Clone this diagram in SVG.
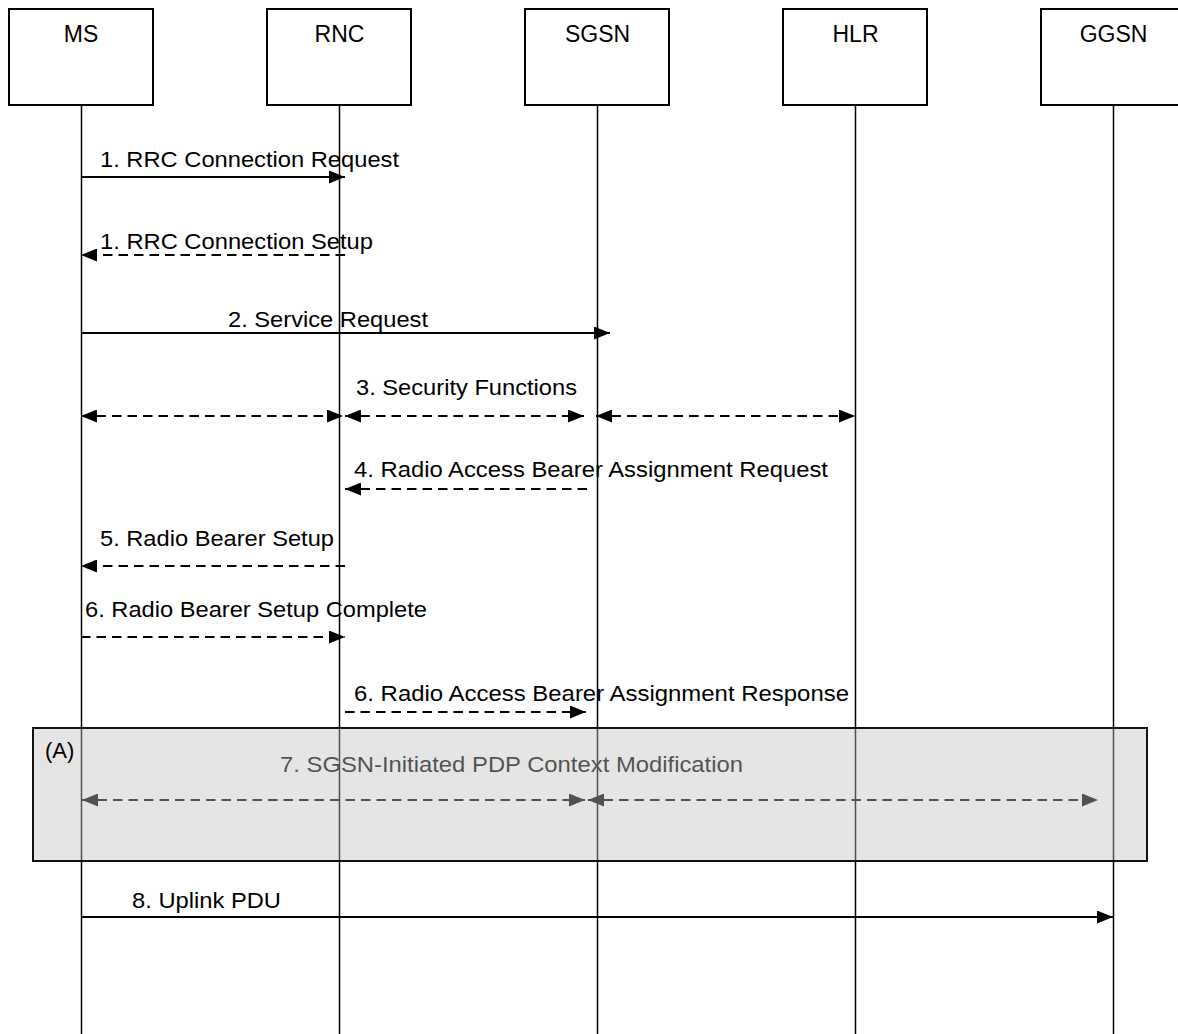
<svg xmlns="http://www.w3.org/2000/svg" width="1178" height="1034" viewBox="0 0 1178 1034">
<defs>
<marker id="ah" markerUnits="userSpaceOnUse" markerWidth="16" markerHeight="13" refX="16" refY="6.5" orient="auto-start-reverse"><path d="M0,0 L16,6.5 L0,13 z" fill="#000"/></marker>
<pattern id="stipple" patternUnits="userSpaceOnUse" width="2" height="2"><rect width="2" height="2" fill="#cdcdcd"/><rect width="1" height="1" fill="#b4b4b4"/><rect x="1" y="1" width="1" height="1" fill="#b4b4b4"/></pattern>
</defs>
<style>
.box{fill:#fff;stroke:#000;stroke-width:2}
.life{stroke:#000;stroke-width:1.5}
.lbl{font-family:"Liberation Sans",Arial,sans-serif;font-size:23px;text-anchor:middle;fill:#000}
.msg{font-family:"Liberation Sans",Arial,sans-serif;font-size:22px;fill:#000}
.s{stroke:#000;stroke-width:2;fill:none;marker-end:url(#ah)}
.d{stroke:#000;stroke-width:2;fill:none;stroke-dasharray:9.5 6;marker-end:url(#ah)}
.dd{stroke:#000;stroke-width:2;fill:none;stroke-dasharray:9.5 6;marker-start:url(#ah);marker-end:url(#ah)}
.frame{fill:url(#stipple);fill-opacity:0.42;stroke:#111;stroke-width:2}
</style>
<rect x="0" y="0" width="1178" height="1034" fill="#fff"/>
<g id="node-ms"><rect class="box" x="9" y="9" width="144" height="96"/><text class="lbl" x="81" y="42">MS</text><line class="life" x1="81.5" y1="105" x2="81.5" y2="1034"/></g>
<g id="node-rnc"><rect class="box" x="267" y="9" width="144" height="96"/><text class="lbl" x="339.5" y="42">RNC</text><line class="life" x1="339.5" y1="105" x2="339.5" y2="1034"/></g>
<g id="node-sgsn"><rect class="box" x="525" y="9" width="144" height="96"/><text class="lbl" x="597.5" y="42">SGSN</text><line class="life" x1="597.5" y1="105" x2="597.5" y2="1034"/></g>
<g id="node-hlr"><rect class="box" x="783" y="9" width="144" height="96"/><text class="lbl" x="855.5" y="42">HLR</text><line class="life" x1="855.5" y1="105" x2="855.5" y2="1034"/></g>
<g id="node-ggsn"><rect class="box" x="1041" y="9" width="144" height="96"/><text class="lbl" x="1113.5" y="42">GGSN</text><line class="life" x1="1113.5" y1="105" x2="1113.5" y2="1034"/></g>
<g id="connectors">
<line class="s" x1="81" y1="177" x2="345" y2="177"/>
<text class="msg" x="100" y="167" textLength="299" lengthAdjust="spacingAndGlyphs">1. RRC Connection Request</text>
<line class="d" x1="345" y1="255" x2="81" y2="255"/>
<text class="msg" x="100" y="249" textLength="273" lengthAdjust="spacingAndGlyphs">1. RRC Connection Setup</text>
<line class="s" x1="81" y1="333" x2="610" y2="333"/>
<text class="msg" x="228" y="327" textLength="200" lengthAdjust="spacingAndGlyphs">2. Service Request</text>
<line class="dd" x1="81" y1="416" x2="343" y2="416"/>
<line class="dd" x1="345" y1="416" x2="584" y2="416"/>
<line class="dd" x1="596" y1="416" x2="855" y2="416"/>
<text class="msg" x="356" y="395" textLength="221" lengthAdjust="spacingAndGlyphs">3. Security Functions</text>
<line class="d" x1="587" y1="489" x2="345" y2="489"/>
<text class="msg" x="354" y="477" textLength="474" lengthAdjust="spacingAndGlyphs">4. Radio Access Bearer Assignment Request</text>
<line class="d" x1="345" y1="566" x2="81" y2="566"/>
<text class="msg" x="100" y="546" textLength="234" lengthAdjust="spacingAndGlyphs">5. Radio Bearer Setup</text>
<line class="d" x1="81" y1="637" x2="345" y2="637"/>
<text class="msg" x="85" y="617" textLength="342" lengthAdjust="spacingAndGlyphs">6. Radio Bearer Setup Complete</text>
<line class="d" x1="345" y1="712" x2="586" y2="712"/>
<text class="msg" x="354" y="701" textLength="495" lengthAdjust="spacingAndGlyphs">6. Radio Access Bearer Assignment Response</text>
<line class="dd" x1="82" y1="800" x2="585" y2="800"/>
<line class="dd" x1="588" y1="800" x2="1098" y2="800"/>
<text class="msg" x="280" y="772" textLength="463" lengthAdjust="spacingAndGlyphs">7. SGSN-Initiated PDP Context Modification</text>
<line class="s" x1="81" y1="917" x2="1113" y2="917"/>
<text class="msg" x="132" y="908" textLength="149" lengthAdjust="spacingAndGlyphs">8. Uplink PDU</text>
</g>
<g id="frame-a">
<rect class="frame" x="33" y="728" width="1114" height="133"/>
<text class="msg" x="45" y="758">(A)</text>
</g>
</svg>
